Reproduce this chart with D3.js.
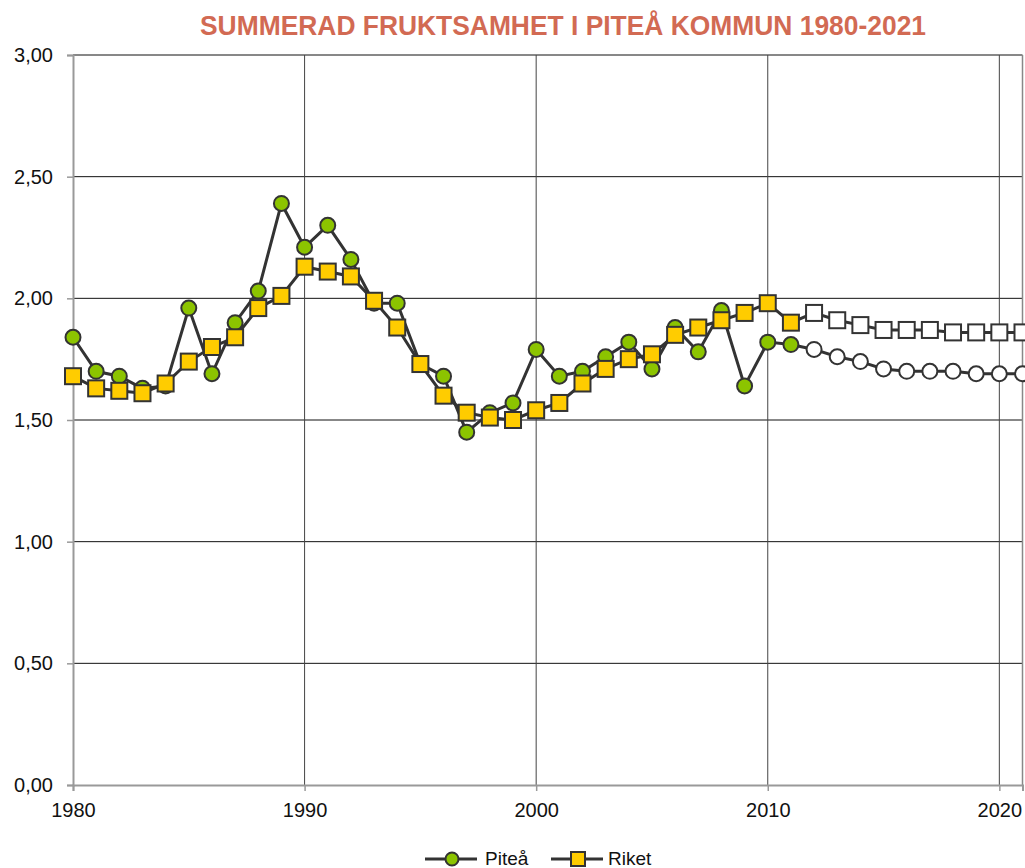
<!DOCTYPE html>
<html>
<head>
<meta charset="utf-8">
<script src="https://cdn.jsdelivr.net/npm/d3@7"></script>
<style>
  body { margin: 0; background: #fff; }
  svg { display: block; }
</style>
</head>
<body>
<svg id="chart" width="1025" height="868"></svg>
<script>
// data
var years = d3.range(1980, 2022)
var pitea = [1.84, 1.70, 1.68, 1.63, 1.64, 1.96, 1.69, 1.90, 2.03, 2.39,
             2.21, 2.30, 2.16, 1.98, 1.98, 1.73, 1.68, 1.45, 1.53, 1.57,
             1.79, 1.68, 1.70, 1.76, 1.82, 1.71, 1.88, 1.78, 1.95, 1.64,
             1.82, 1.81, 1.79, 1.76, 1.74, 1.71, 1.70, 1.70, 1.70, 1.69,
             1.69, 1.69]
var riket = [1.68, 1.63, 1.62, 1.61, 1.65, 1.74, 1.80, 1.84, 1.96, 2.01,
             2.13, 2.11, 2.09, 1.99, 1.88, 1.73, 1.60, 1.53, 1.51, 1.50,
             1.54, 1.57, 1.65, 1.71, 1.75, 1.77, 1.85, 1.88, 1.91, 1.94,
             1.98, 1.90, 1.94, 1.91, 1.89, 1.87, 1.87, 1.87, 1.86, 1.86,
             1.86, 1.86]
var firstForecastYear = 2012
var yTicks = [0, 0.5, 1, 1.5, 2, 2.5, 3]
var xTicks = [1980, 1990, 2000, 2010, 2020]
var seriesNames = ["Piteå", "Riket"]

var svg = d3.select("#chart")
var margin = {top: 55, right: 2.5, bottom: 83, left: 73}
var width = 1025 - margin.left - margin.right
var height = 868 - margin.top - margin.bottom
var font = "'Liberation Sans', Arial, sans-serif"

var x = d3.scaleLinear().domain([1980, 2021]).range([0, width])
var y = d3.scaleLinear().domain([0, 3]).range([height, 0])
var fmt = function(d) { return d3.format(".2f")(d).replace(".", ",") }

// title
svg.append("text")
    .attr("x", 563)
    .attr("y", 35)
    .attr("text-anchor", "middle")
    .attr("fill", "#d26a53")
    .attr("font-family", "'Liberation Sans Narrow', 'Liberation Sans', sans-serif")
    .attr("font-weight", "bold")
    .attr("font-size", 28)
    .attr("textLength", 726)
    .attr("lengthAdjust", "spacingAndGlyphs")
    .text("SUMMERAD FRUKTSAMHET I PITEÅ KOMMUN 1980-2021")

var g = svg.append("g").attr("transform", "translate(" + margin.left + "," + margin.top + ")")

// horizontal grid
g.selectAll(".hgrid")
    .data(yTicks.filter(function(d) { return d > 0 }))
    .enter()
    .append("line")
    .attr("x1", 0).attr("x2", width)
    .attr("y1", function(d) { return y(d) }).attr("y2", function(d) { return y(d) })
    .attr("stroke", "#111").attr("stroke-width", 1)

// vertical grid
g.selectAll(".vgrid")
    .data(xTicks.filter(function(d) { return d > 1980 }))
    .enter()
    .append("line")
    .attr("x1", function(d) { return x(d) }).attr("x2", function(d) { return x(d) })
    .attr("y1", 0).attr("y2", height)
    .attr("stroke", "#444").attr("stroke-width", 1)

// right border
g.append("line")
    .attr("x1", width).attr("x2", width).attr("y1", 0).attr("y2", height)
    .attr("stroke", "#888").attr("stroke-width", 1.5)

// axes
var yAxis = g.append("g")
    .call(d3.axisLeft(y).tickValues(yTicks).tickFormat(fmt).tickSize(6).tickPadding(14))
var xAxis = g.append("g")
    .attr("transform", "translate(0," + height + ")")
    .call(d3.axisBottom(x).tickValues(xTicks).tickFormat(d3.format("d")).tickSize(6).tickPadding(12))

;[yAxis, xAxis].forEach(function(ax) {
    ax.select(".domain").attr("stroke", "#999").attr("stroke-width", 2)
    ax.selectAll(".tick line").attr("stroke", "#999").attr("stroke-width", 1.5)
    ax.selectAll("text")
        .attr("font-family", font)
        .attr("font-size", 20)
        .attr("fill", "#111")
})

// series
var lineGen = d3.line()
    .x(function(d) { return x(d.year) })
    .y(function(d) { return y(d.value) })

function toPoints(values) {
    return values.map(function(v, i) { return {year: years[i], value: v} })
}

var piteaPts = toPoints(pitea)
var riketPts = toPoints(riket)

g.append("path")
    .attr("d", lineGen(piteaPts))
    .attr("fill", "none").attr("stroke", "#333").attr("stroke-width", 3)
g.selectAll(".pcircle")
    .data(piteaPts)
    .enter()
    .append("circle")
    .attr("cx", function(d) { return x(d.year) })
    .attr("cy", function(d) { return y(d.value) })
    .attr("r", 7.5)
    .attr("fill", function(d) { return d.year >= firstForecastYear ? "#fff" : "#8cc400" })
    .attr("stroke", "#333").attr("stroke-width", 2)

g.append("path")
    .attr("d", lineGen(riketPts))
    .attr("fill", "none").attr("stroke", "#333").attr("stroke-width", 3)
g.selectAll(".rsquare")
    .data(riketPts)
    .enter()
    .append("rect")
    .attr("x", function(d) { return x(d.year) - 8 })
    .attr("y", function(d) { return y(d.value) - 8 })
    .attr("width", 16).attr("height", 16)
    .attr("fill", function(d) { return d.year >= firstForecastYear ? "#fff" : "#ffcc00" })
    .attr("stroke", "#333").attr("stroke-width", 2)

// legend
var legend = svg.append("g").attr("transform", "translate(0,859)")
var leg1 = legend.append("g").attr("transform", "translate(425,0)")
leg1.append("line").attr("x1", 0).attr("x2", 52).attr("stroke", "#333").attr("stroke-width", 3)
leg1.append("circle").attr("cx", 27).attr("r", 6.5).attr("fill", "#8cc400").attr("stroke", "#333").attr("stroke-width", 2)
leg1.append("text").attr("x", 60).attr("y", 6).text(seriesNames[0])
var leg2 = legend.append("g").attr("transform", "translate(551,0)")
leg2.append("line").attr("x1", 0).attr("x2", 52).attr("stroke", "#333").attr("stroke-width", 3)
leg2.append("rect").attr("x", 20).attr("y", -7).attr("width", 14).attr("height", 14).attr("fill", "#ffcc00").attr("stroke", "#333").attr("stroke-width", 2)
leg2.append("text").attr("x", 57).attr("y", 6).text(seriesNames[1])
legend.selectAll("text").attr("font-family", font).attr("font-size", 19).attr("fill", "#111")
</script>
</body>
</html>
